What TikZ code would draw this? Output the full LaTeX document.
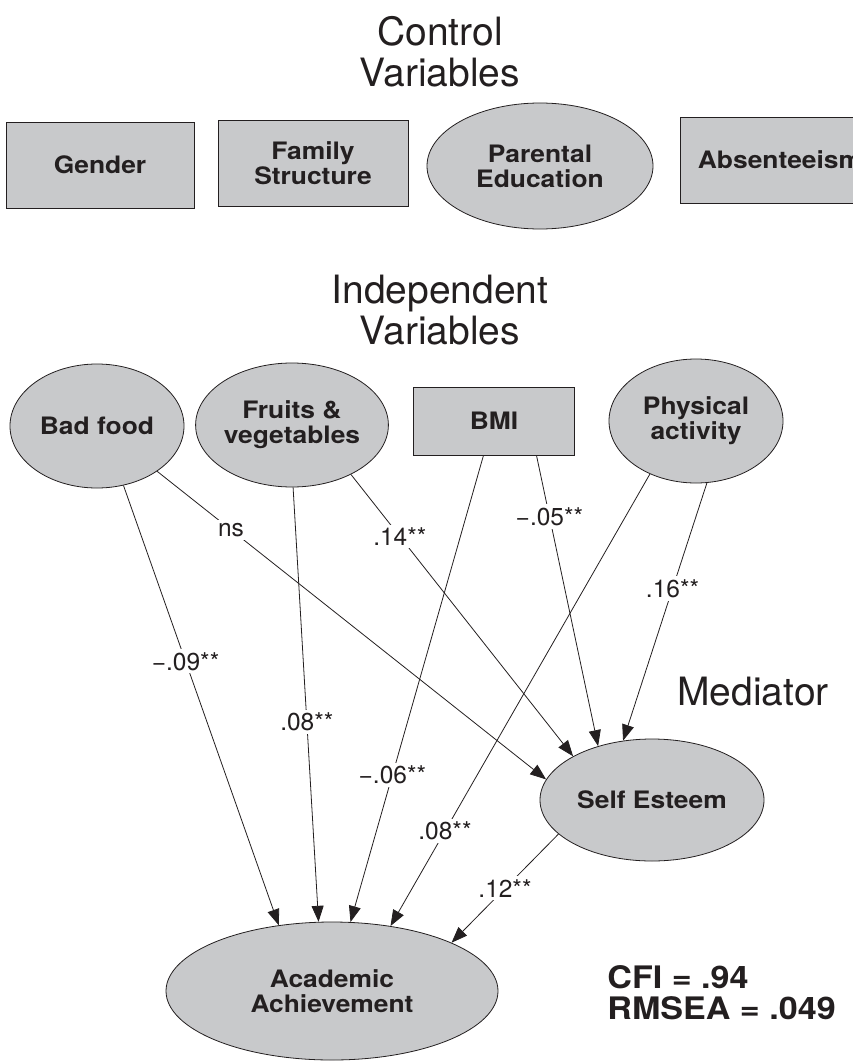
\documentclass[tikz,border=0pt]{standalone}
\usepackage{fontspec}
\setmainfont{TeX Gyre Heros}
\newfontfamily\widefont[FakeStretch=1.1]{TeX Gyre Heros}
\usetikzlibrary{arrows.meta,shapes.geometric}
\definecolor{varfill}{RGB}{200,201,203}
\definecolor{ink}{RGB}{35,31,32}

\begin{document}
\begin{tikzpicture}[x=1pt, y=-1pt, >={Triangle[length=16pt,width=12pt]}, line width=0.8pt, draw=ink, text=ink,
    box/.style={rectangle, draw=ink, fill=varfill, inner sep=0pt, align=center, font=\widefont\fontsize{24}{25}\selectfont\bfseries},
    oval/.style={ellipse, draw=ink, fill=varfill, inner sep=0pt, align=center, font=\widefont\fontsize{24}{25}\selectfont\bfseries},
    lbl/.style={fill=white, inner sep=3pt, font=\fontsize{24.5}{25}\selectfont},
    ttl/.style={align=center, inner sep=0pt, font=\fontsize{39}{41}\selectfont},
    fit/.style={align=left, inner sep=0pt, font=\widefont\fontsize{31}{31}\selectfont\bfseries}]
        \useasboundingbox (0,0) rectangle (852,1062);
        % headings
        \node[ttl] (ctrl) at (440,52) {Control\\Variables};
        \node[ttl] (indep) at (440,310) {Independent\\Variables};
        \node[ttl, anchor=base west] (med) at (677,705) {Mediator};
        % control variables
        \node[box, minimum width=188, minimum height=86] (gender) at (100,165) {Gender};
        \node[box, minimum width=190, minimum height=86] (family) at (313,163) {Family\\Structure};
        \node[oval, minimum width=226, minimum height=126] (parent) at (540,166) {Parental\\Education};
        \node[box, minimum width=200, minimum height=86] (absent) at (780,160) {Absenteeism};
        % independent variables
        \node[oval, minimum width=174, minimum height=124] (bad) at (97,426) {Bad food};
        \node[oval, minimum width=174, minimum height=124] (fruit) at (292,425) {Fruits \&\\vegetables};
        \node[box, minimum width=161, minimum height=68] (bmi) at (494,421) {BMI};
        \node[oval, minimum width=174, minimum height=124] (phys) at (696,421) {Physical\\activity};
        % mediator and outcome
        \node[oval, minimum width=224, minimum height=122] (self) at (652,800) {Self Esteem};
        \node[oval, minimum width=332, minimum height=138] (acad) at (332,991) {Academic\\Achievement};
        \node[fit, anchor=north west] (fitidx) at (607,965) {CFI = .94\\RMSEA = .049};
        % paths
        \draw[->] (bad.294) -- (acad.129) node[lbl, pos=0.4] {−.09**};
        \draw[->] (bad.323) -- (self.169) node[lbl, pos=0.19] {ns};
        \draw[->] (fruit.271) -- (acad.101) node[lbl, pos=0.54] {.08**};
        \draw[->] (fruit.320) -- (self.151) node[lbl, pos=0.22] {.14**};
        \draw[->] (bmi.253.6) -- (acad.75.6) node[lbl, pos=0.685] {−.06**};
        \draw[->] (bmi.321.7) -- (self.135.5) node[lbl, pos=0.21] {−.05**};
        \draw[->] (phys.229) -- (acad.48.8) node[lbl, pos=0.79] {.08**};
        \draw[->] (phys.280) -- (self.116.2) node[lbl, pos=0.41] {.16**};
        \draw[->] (self.200.4) -- (acad.22.1) node[lbl, pos=0.5] {.12**};
\end{tikzpicture}
\end{document}
